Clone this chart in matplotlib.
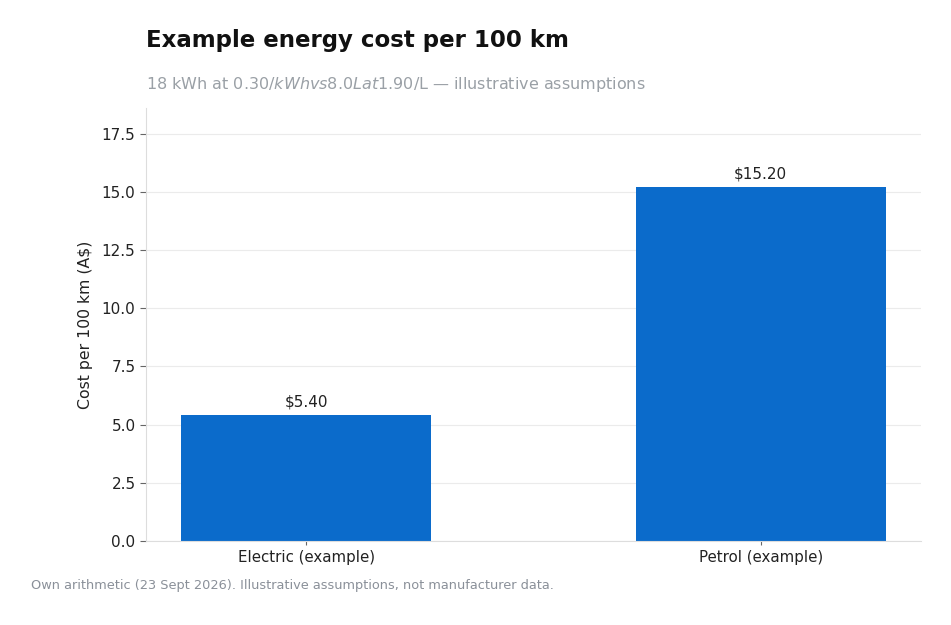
import matplotlib
matplotlib.use("Agg")
from matplotlib import pyplot as plt

# data
categories = ["Electric (example)", "Petrol (example)"]
costs = [5.40, 15.20]
yticks = [0.0, 2.5, 5.0, 7.5, 10.0, 12.5, 15.0, 17.5]

fig = plt.figure(figsize=(9.51, 6.25), dpi=100)
ax = fig.add_axes([0.1535, 0.1344, 0.815, 0.6928])

bars = ax.bar(range(len(categories)), costs, width=0.55, color="#0b6bcb", zorder=2)
for b, v in zip(bars, costs):
    ax.annotate(f"${v:.2f}", (b.get_x() + b.get_width() / 2, v),
                xytext=(0, 4), textcoords="offset points",
                ha="center", va="bottom", fontsize=11, color="#222222")

ax.set_xticks(range(len(categories)))
ax.set_xticklabels(categories, fontsize=10.8)
ax.set_yticks(yticks)
ax.set_yticklabels([f"{t:.1f}" for t in yticks], fontsize=11)
ax.set_ylim(0, 18.6)
ax.set_ylabel("Cost per 100 km (A$)", fontsize=11.3, color="#222222", labelpad=6)

ax.grid(axis="y", color="#ebebeb", linewidth=0.8, zorder=0)
ax.set_axisbelow(True)
for s in ["top", "right"]:
    ax.spines[s].set_visible(False)
for s in ["left", "bottom"]:
    ax.spines[s].set_color("#dddddd")
ax.tick_params(color="#666666", labelcolor="#222222", length=4)
ax.tick_params(axis="x", length=3)

fig.text(146 / 951, 1 - 40 / 625, "Example energy cost per 100 km",
         fontsize=16.5, fontweight="bold", color="#111111", va="center")
fig.text(146 / 951, 1 - 84 / 625,
         "18 kWh at $0.30/kWh vs 8.0 L at $1.90/L — illustrative assumptions",
         fontsize=11.5, color="#9aa0a6", va="center")
fig.text(31 / 951, 1 - 586 / 625,
         "Own arithmetic (23 Sept 2026). Illustrative assumptions, not manufacturer data.",
         fontsize=9.3, color="#8a9099", va="center")

fig.savefig("out.png", dpi=100)
